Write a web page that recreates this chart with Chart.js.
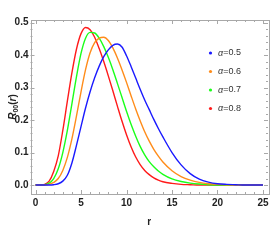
<!DOCTYPE html>
<html>
<head>
<meta charset="utf-8">
<script src="https://cdn.jsdelivr.net/npm/chart.js@4"></script>
<style>
  html, body { margin: 0; padding: 0; background: #fff; }
  #wrap { width: 273px; height: 245px; position: relative; }
</style>
</head>
<body>
<div id="wrap"><canvas id="chart"></canvas></div>
<script>
// r grid shared by all curves
var rValues = [0, 0.5, 1, 1.5, 2, 2.5, 3, 3.5, 4, 4.5, 5, 5.5, 6, 6.5, 7, 7.5, 8, 8.5, 9, 9.5,
               10, 10.5, 11, 11.5, 12, 12.5, 13, 13.5, 14, 15, 16, 17, 18, 19, 20, 21, 22, 23, 24, 25];

var alpha05 = [0, 0, 0, 0, 0.001, 0.004, 0.012, 0.03, 0.068, 0.122, 0.18, 0.237, 0.287, 0.33, 0.366, 0.395,
               0.416, 0.43, 0.434, 0.425, 0.398, 0.365, 0.33, 0.295, 0.262, 0.232, 0.202, 0.174, 0.148,
               0.1, 0.062, 0.035, 0.018, 0.009, 0.004, 0.002, 0.001, 0, 0, 0];
var alpha06 = [0, 0, 0, 0.002, 0.008, 0.02, 0.045, 0.085, 0.142, 0.212, 0.287, 0.355, 0.407, 0.438, 0.452, 0.455,
               0.445, 0.422, 0.391, 0.355, 0.316, 0.275, 0.235, 0.198, 0.164, 0.135, 0.11, 0.089, 0.071,
               0.044, 0.026, 0.015, 0.008, 0.004, 0.002, 0.001, 0, 0, 0, 0];
var alpha07 = [0, 0, 0.001, 0.006, 0.02, 0.05, 0.1, 0.168, 0.25, 0.333, 0.405, 0.452, 0.47, 0.468, 0.452, 0.426,
               0.393, 0.355, 0.313, 0.27, 0.227, 0.187, 0.151, 0.119, 0.093, 0.072, 0.056, 0.043, 0.033,
               0.019, 0.011, 0.006, 0.003, 0.001, 0, 0, 0, 0, 0, 0];
var alpha08 = [0, 0, 0.002, 0.012, 0.042, 0.09, 0.168, 0.258, 0.345, 0.418, 0.466, 0.485, 0.478, 0.455, 0.42, 0.38,
               0.336, 0.29, 0.243, 0.197, 0.155, 0.118, 0.087, 0.063, 0.045, 0.032, 0.022, 0.015, 0.01,
               0.005, 0.002, 0.001, 0, 0, 0, 0, 0, 0, 0, 0];

var seriesLabels = ['0.5', '0.6', '0.7', '0.8'];
var seriesColors = ['#1a1aff', '#ff8c1a', '#1aff1a', '#ff1a1a'];
var seriesValues = [alpha05, alpha06, alpha07, alpha08];

var xTicks = [0, 5, 10, 15, 20, 25];
var yTicks = [0, 0.1, 0.2, 0.3, 0.4, 0.5];

function toPoints(ys) {
    return rValues.map(function (r, i) { return { x: r, y: ys[i] }; });
}

var datasets = seriesValues.map(function (ys, i) {
    return {
        label: seriesLabels[i],
        data: toPoints(ys),
        borderColor: seriesColors[i],
        borderWidth: 1.4,
        pointRadius: 0,
        fill: false,
        cubicInterpolationMode: 'monotone'
    };
});

// frame, inward ticks, axis titles and legend, Mathematica style
var framePlugin = {
    id: 'frame',
    afterDraw: function (chart) {
        var ctx = chart.ctx;
        var a = chart.chartArea;
        var xs = chart.scales.x, ys = chart.scales.y;
        ctx.save();
        ctx.strokeStyle = '#a8a8a8';
        ctx.lineWidth = 1;
        ctx.strokeRect(Math.round(a.left) + 0.5, Math.round(a.top) + 0.5,
                       Math.round(a.right - a.left), Math.round(a.bottom - a.top));
        ctx.beginPath();
        for (var v = 0; v <= 25; v++) {
            var px = Math.round(xs.getPixelForValue(v)) + 0.5;
            var len = v % 5 === 0 ? 4 : 2;
            ctx.moveTo(px, a.bottom); ctx.lineTo(px, a.bottom - len);
            ctx.moveTo(px, a.top); ctx.lineTo(px, a.top + len);
        }
        for (var k = 0; k <= 25; k++) {
            var val = k * 0.02;
            var py = Math.round(ys.getPixelForValue(val)) + 0.5;
            var l2 = k % 5 === 0 ? 4 : 2;
            ctx.moveTo(a.left, py); ctx.lineTo(a.left + l2, py);
            ctx.moveTo(a.right, py); ctx.lineTo(a.right - l2, py);
        }
        ctx.stroke();

        // x title
        ctx.fillStyle = '#222';
        ctx.font = 'bold 10px "Liberation Sans"';
        ctx.textAlign = 'center';
        ctx.textBaseline = 'middle';
        ctx.fillText('r', (a.left + a.right) / 2, 222);

        // y title R00(r)
        ctx.translate(12, (a.top + a.bottom) / 2);
        ctx.rotate(-Math.PI / 2);
        ctx.textAlign = 'left';
        ctx.textBaseline = 'alphabetic';
        var parts = [
            { t: 'R', f: 'italic bold 10px "Liberation Sans"', dy: 0 },
            { t: '00', f: 'bold 7px "Liberation Sans"', dy: 2 },
            { t: '(', f: 'bold 10px "Liberation Sans"', dy: 0 },
            { t: 'r', f: 'italic bold 10px "Liberation Sans"', dy: 0 },
            { t: ')', f: 'bold 10px "Liberation Sans"', dy: 0 }
        ];
        var total = 0;
        parts.forEach(function (p) { ctx.font = p.f; total += ctx.measureText(p.t).width; });
        var x = -total / 2;
        parts.forEach(function (p) {
            ctx.font = p.f;
            ctx.fillText(p.t, x, 4 + p.dy);
            x += ctx.measureText(p.t).width;
        });
        ctx.restore();

        // legend
        ctx.save();
        ctx.textBaseline = 'middle';
        ctx.textAlign = 'left';
        chart.data.datasets.forEach(function (ds, i) {
            var yy = 53 + i * 18.5;
            ctx.fillStyle = ds.borderColor;
            ctx.beginPath();
            ctx.arc(210.5, yy, 1.6, 0, Math.PI * 2);
            ctx.fill();
            ctx.fillStyle = '#333';
            ctx.font = 'italic 9px "Liberation Sans"';
            ctx.fillText('\u03b1', 218, yy);
            var w = ctx.measureText('\u03b1').width;
            ctx.font = '9px "Liberation Sans"';
            ctx.fillText('=' + ds.label, 218 + w, yy);
        });
        ctx.restore();
    }
};

var ctx = document.getElementById('chart').getContext('2d');
var chart = new Chart(ctx, {
    type: 'line',
    data: { datasets: datasets },
    options: {
        responsive: true,
        maintainAspectRatio: false,
        animation: false,
        layout: { padding: { top: 20, right: 5, left: 0, bottom: 0 } },
        plugins: { legend: { display: false }, tooltip: { enabled: false } },
        scales: {
            x: {
                type: 'linear',
                min: -0.55,
                max: 25.55,
                afterBuildTicks: function (s) { s.ticks = xTicks.map(function (v) { return { value: v }; }); },
                afterFit: function (s) { s.height = 51; },
                grid: { display: false, drawTicks: false },
                border: { display: false },
                ticks: {
                    padding: 3,
                    color: '#222',
                    font: { family: 'Liberation Sans', size: 10, weight: 'bold' },
                    maxRotation: 0,
                    callback: function (v) { return v; }
                }
            },
            y: {
                type: 'linear',
                min: -0.0276,
                max: 0.508,
                afterBuildTicks: function (s) { s.ticks = yTicks.map(function (v) { return { value: v }; }); },
                afterFit: function (s) { s.width = 30.5; },
                grid: { display: false, drawTicks: false },
                border: { display: false },
                ticks: {
                    padding: 2,
                    color: '#222',
                    font: { family: 'Liberation Sans', size: 10, weight: 'bold' },
                    callback: function (v) { return Number(v).toFixed(1); }
                }
            }
        }
    },
    plugins: [framePlugin]
});
</script>
</body>
</html>
